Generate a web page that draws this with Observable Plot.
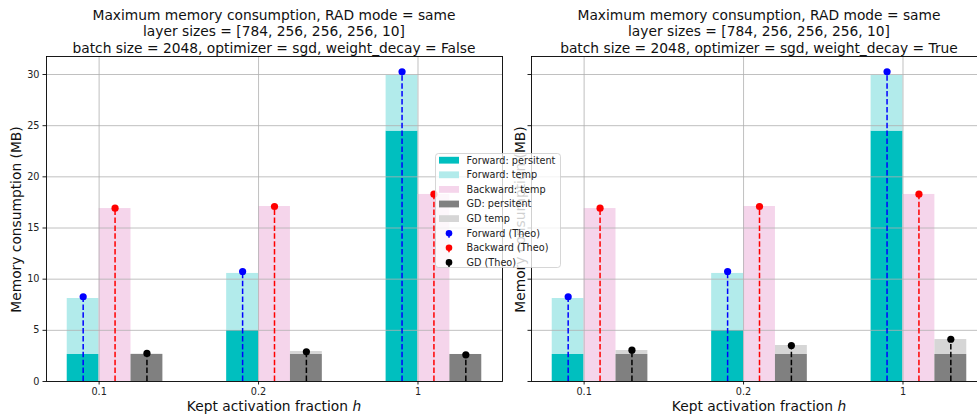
<!DOCTYPE html>
<html>
<head>
<meta charset="utf-8">
<script src="https://cdn.jsdelivr.net/npm/d3@7"></script>
<script src="https://cdn.jsdelivr.net/npm/@observablehq/plot@0.6"></script>
<style>
  body { margin: 0; background: #fff; font-family: "DejaVu Sans", sans-serif; }
  #fig { position: relative; width: 977px; height: 419px; overflow: hidden; background: #fff; }
  .panel { position: absolute; top: 0; }
  .title { position: absolute; top: 7px; width: 520px; text-align: center; font-size: 13.8px;
           line-height: 16.3px; color: #111; white-space: nowrap; }
  .xlabel { position: absolute; top: 398px; width: 400px; text-align: center; font-size: 13.8px;
            line-height: 17px; color: #111; white-space: nowrap; }
  .ylabel { position: absolute; width: 300px; height: 17px; line-height: 17px; text-align: center;
            font-size: 13.8px; color: #111; white-space: nowrap; transform: rotate(-90deg); }
  #legend { position: absolute; left: 435px; top: 153px; z-index: 5; }
</style>
</head>
<body>
<div id="fig"></div>
<script>
// Kept activation fraction h (one group of bars per value)
const fractions = ["0.1", "0.2", "1"];
const yTicks = [0, 5, 10, 15, 20, 25, 30];

// Measured peak memory (MB), weight_decay = False
const fwdPersistentA = [2.64, 5.0, 24.47];
const fwdTempA = [5.47, 5.56, 5.44];
const bwdTempA = [16.9, 17.1, 18.28];
const gdPersistentA = [2.64, 2.64, 2.64];
const gdTempA = [0.04, 0.29, 0.0];
// Theoretical estimates, weight_decay = False
const fwdTheoA = [8.28, 10.75, 30.27];
const bwdTheoA = [16.94, 17.1, 18.31];
const gdTheoA = [2.74, 2.9, 2.61];

// Measured peak memory (MB), weight_decay = True
const fwdPersistentB = [2.64, 5.0, 24.47];
const fwdTempB = [5.47, 5.56, 5.44];
const bwdTempB = [16.9, 17.1, 18.28];
const gdPersistentB = [2.64, 2.64, 2.64];
const gdTempB = [0.39, 0.88, 1.46];
// Theoretical estimates, weight_decay = True
const fwdTheoB = [8.28, 10.75, 30.27];
const bwdTheoB = [16.94, 17.1, 18.31];
const gdTheoB = [3.06, 3.52, 4.13];

const legendLabels = ["Forward: persitent", "Forward: temp", "Backward: temp", "GD: persitent",
                      "GD temp", "Forward (Theo)", "Backward (Theo)", "GD (Theo)"];

const C = {
  fwdP: "#00bfbf", fwdT: "#b2ebeb", bwdT: "#f5d5eb", gdP: "#808080", gdT: "#d6d6d6",
  fwdTheo: "#0000ff", bwdTheo: "#ff0000", gdTheo: "#000000", grid: "#b0b0b0"
};

const W = 0.2;                       // bar width in group units
const OFF = {fwd: -0.1, bwd: 0.1, gd: 0.3};

function panel(d, showYLabels, marginLeft, marginRight) {
  const idx = d3.range(fractions.length);
  const bar = (off, lo, hi, fill) =>
    Plot.rect(idx, {x1: i => i + off - W / 2, x2: i => i + off + W / 2, y1: lo, y2: hi, fill});
  const stem = (off, vals, color) => [
    Plot.ruleX(idx, {x: i => i + off, y1: 0, y2: i => vals[i], stroke: color,
                     strokeWidth: 1.5, strokeDasharray: "5.5,2.4"}),
    Plot.dot(idx, {x: i => i + off, y: i => vals[i], r: 3.6, fill: color, stroke: "none"})
  ];
  return Plot.plot({
    width: 510, height: 419,
    marginLeft, marginRight, marginTop: 56, marginBottom: 38,
    style: {fontFamily: "DejaVu Sans", fontSize: "9.7px", color: "#222",
            background: "transparent", maxWidth: "none"},
    x: {domain: [-0.33, 2.53], ticks: [0, 1, 2], tickFormat: i => fractions[i],
        tickSize: 3.5, tickPadding: 3, label: null},
    y: {domain: [0, 31.76], ticks: yTicks, tickSize: 3.5, tickPadding: 3.5, label: null,
        tickFormat: showYLabels ? (v => String(v)) : (() => "")},
    marks: [
      bar(OFF.fwd, 0, i => d.fwdP[i], C.fwdP),
      bar(OFF.fwd, i => d.fwdP[i], i => d.fwdP[i] + d.fwdT[i], C.fwdT),
      bar(OFF.bwd, 0, i => d.bwdT[i], C.bwdT),
      bar(OFF.gd, 0, i => d.gdP[i], C.gdP),
      bar(OFF.gd, i => d.gdP[i], i => d.gdP[i] + d.gdT[i], C.gdT),
      Plot.ruleY(yTicks.slice(1), {stroke: C.grid, strokeWidth: 0.8}),
      Plot.ruleX([0, 1, 2], {stroke: C.grid, strokeWidth: 0.8}),
      ...stem(OFF.fwd, d.fwdTheo, C.fwdTheo),
      ...stem(OFF.bwd, d.bwdTheo, C.bwdTheo),
      ...stem(OFF.gd, d.gdTheo, C.gdTheo),
      Plot.frame({stroke: "black", strokeWidth: 0.9})
    ]
  });
}

const fig = document.getElementById("fig");

const left = panel({fwdP: fwdPersistentA, fwdT: fwdTempA, bwdT: bwdTempA, gdP: gdPersistentA,
                    gdT: gdTempA, fwdTheo: fwdTheoA, bwdTheo: bwdTheoA, gdTheo: gdTheoA},
                   true, 46, 8);
left.classList.add("panel");
left.style.left = "0px";
fig.appendChild(left);

const right = panel({fwdP: fwdPersistentB, fwdT: fwdTempB, bwdT: bwdTempB, gdP: gdPersistentB,
                     gdT: gdTempB, fwdTheo: fwdTheoB, bwdTheo: bwdTheoB, gdTheo: gdTheoB},
                    false, 41, 13);
right.classList.add("panel");
right.style.left = "490px";
fig.appendChild(right);

// Titles and axis labels
function addDiv(cls, html, css) {
  const el = document.createElement("div");
  el.className = cls;
  el.innerHTML = html;
  Object.assign(el.style, css);
  fig.appendChild(el);
}
const titleLines = wd => "Maximum memory consumption, RAD mode = same<br>" +
  "layer sizes = [784, 256, 256, 256, 10]<br>" +
  "batch size = 2048, optimizer = sgd, weight_decay = " + wd;
addDiv("title", titleLines("False"), {left: (274 - 260) + "px"});
addDiv("title", titleLines("True"), {left: (759 - 260) + "px"});
addDiv("xlabel", "Kept activation fraction <i>h</i>", {left: (274 - 200) + "px"});
addDiv("xlabel", "Kept activation fraction <i>h</i>", {left: (759 - 200) + "px"});
addDiv("ylabel", "Memory consumption (MB)", {left: (16 - 150) + "px", top: (219 - 8.5) + "px"});
addDiv("ylabel", "Memory consumption (MB)", {left: (520 - 150) + "px", top: (219 - 8.5) + "px"});

// Legend
const lw = 126, lh = 115, rowH = 14.6;
const legendSwatches = [
  {type: "patch", color: C.fwdP}, {type: "patch", color: C.fwdT}, {type: "patch", color: C.bwdT},
  {type: "patch", color: C.gdP}, {type: "patch", color: C.gdT},
  {type: "stem", color: C.fwdTheo}, {type: "stem", color: C.bwdTheo}, {type: "stem", color: C.gdTheo}
];
const lg = d3.create("svg").attr("id", "legend").attr("width", lw).attr("height", lh)
  .style("overflow", "visible");
lg.append("rect").attr("x", 0.5).attr("y", 0.5).attr("width", lw - 1).attr("height", lh - 1)
  .attr("rx", 3).attr("fill", "rgba(255,255,255,0.8)").attr("stroke", "rgba(204,204,204,0.8)");
legendLabels.forEach((label, k) => {
  const cy = 7.2 + k * rowH;
  const sw = legendSwatches[k];
  if (sw.type === "patch") {
    lg.append("rect").attr("x", 4).attr("y", cy - 3.4).attr("width", 20).attr("height", 6.8)
      .attr("fill", sw.color);
  } else {
    lg.append("line").attr("x1", 14).attr("x2", 14).attr("y1", cy).attr("y2", cy + 4.5)
      .attr("stroke", sw.color).attr("stroke-width", 1.5);
    lg.append("circle").attr("cx", 14).attr("cy", cy).attr("r", 3.3).attr("fill", sw.color);
  }
  lg.append("text").attr("x", 31.5).attr("y", cy).attr("dy", "0.35em")
    .attr("font-family", "DejaVu Sans").attr("font-size", 9.7).attr("fill", "#222").text(label);
});
fig.appendChild(lg.node());
</script>
</body>
</html>
